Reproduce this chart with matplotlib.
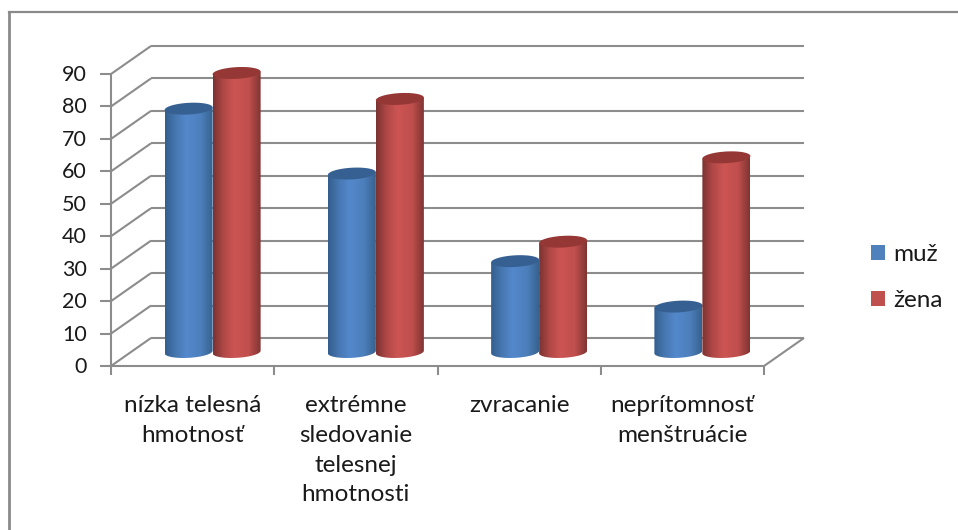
import numpy as np
import matplotlib
matplotlib.use("Agg")
import matplotlib.pyplot as plt
from matplotlib.colors import LinearSegmentedColormap
from matplotlib.lines import Line2D
from matplotlib.patches import Patch, Polygon

categories = ["nízka telesná\nhmotnosť", "extrémne\nsledovanie\ntelesnej\nhmotnosti",
              "zvracanie", "neprítomnosť\nmenštruácie"]
series_names = ["muž", "žena"]
muz = [75, 55, 28, 14]
zena = [86, 78, 34, 60]
y_ticks = list(range(0, 100, 10))

W, H = 958, 530
GRID = "#8c8c8c"
TEXT = "#1a1a1a"

plt.rcParams["font.family"] = ["Lato", "DejaVu Sans"]

# per-series colours: flat legend colour, cylinder shading, top cap
legend_colors = ["#4f81bd", "#c0504d"]
shade_stops = [0, 0.22, 0.45, 0.75, 1]
shades = [["#335e8e", "#4777b0", "#5388cc", "#4c7fbb", "#37628f"],
          ["#7a3231", "#b04846", "#cc5553", "#c04f4d", "#7f3533"]]
cap_colors = ["#376092", "#953735"]

fig = plt.figure(figsize=(W / 100, H / 100), dpi=100)
# the axes sits on the plane through the middle of the chart depth
ax = fig.add_axes([131 / W, (H - 352) / H, 653 / W, 292 / H])
ax.axis("off")

# offset between the middle plane and the back wall
dx, dy = 0.1225, 4.32
bar_w = 0.294
cap_b = 1.8
cap_tilt = 0.4


def line(xs, ys, **kw):
    ax.plot(xs, ys, color=GRID, lw=1.5, clip_on=False, solid_capstyle="butt", zorder=1, **kw)


# back wall gridlines, side wall lines and ticks
for v in y_ticks:
    line([-dx, dx], [v - dy, v + dy])
    line([dx, 4 + dx], [v + dy, v + dy])
    line([-dx - 0.067, -dx], [v - dy, v - dy])
    ax.text(-0.27, v - dy - 0.3, str(v), ha="right", va="center", fontsize=15.5, color=TEXT,
            clip_on=False)

# floor edges and front axis
line([-dx, 4 - dx], [-dy, -dy])
line([4 - dx, 4 + dx], [-dy, dy])
line([-dx, -dx], [-dy, 90 - dy])
for i in range(5):
    line([i - dx, i - dx], [-dy, -dy - 2.8])

for i, label in enumerate(categories):
    ax.text(i + 0.5 - dx, -13.2, label, ha="center", va="top", fontsize=17.5, color=TEXT,
            linespacing=1.52, clip_on=False)


def draw_cylinder(left, value, s):
    t = np.linspace(0, np.pi, 60)
    cx = left + bar_w / 2
    ex = cx + bar_w / 2 * np.cos(t)
    tilt = cap_tilt * np.cos(t)
    # side outline: top edge right to left, then the lower curve of the base
    top = np.column_stack([ex, value + tilt])
    base = np.column_stack([ex[::-1], -cap_b * np.sin(t[::-1]) + tilt[::-1]])
    outline = Polygon(np.vstack([top, base]), closed=True, transform=ax.transData,
                      facecolor="none", edgecolor="none", clip_on=False)
    ax.add_patch(outline)
    cmap = LinearSegmentedColormap.from_list("cyl", list(zip(shade_stops, shades[s])))
    img = ax.imshow(np.linspace(0, 1, 128)[None, :], cmap=cmap, aspect="auto", zorder=3 + s,
                    extent=[left, left + bar_w, -cap_b - 1, value + 1])
    # the base curve hangs below the axes, so only the outline may clip the image
    img.set_clip_box(fig.bbox)
    img.set_clip_path(outline)
    # top cap
    tt = np.linspace(0, 2 * np.pi, 90)
    cap = np.column_stack([cx + bar_w / 2 * np.cos(tt),
                           value + cap_b * np.sin(tt) + cap_tilt * np.cos(tt)])
    ax.add_patch(Polygon(cap, closed=True, facecolor=cap_colors[s], edgecolor="none",
                         zorder=3 + s, clip_on=False))


for i in range(len(categories)):
    center = i + 0.5
    draw_cylinder(center - bar_w, muz[i], 0)
    draw_cylinder(center, zena[i], 1)

# imshow resets the limits
ax.set_xlim(0, 4)
ax.set_ylim(0, 90)

handles = [Patch(facecolor=c, edgecolor="none") for c in legend_colors]
fig.legend(handles, series_names, loc="upper left", bbox_to_anchor=(871 / W, 1 - 244 / H),
           frameon=False, fontsize=17.5, handlelength=0.58, handleheight=0.58,
           handletextpad=0.33, labelspacing=1.03, labelcolor=TEXT, borderpad=0, borderaxespad=0)

# outer frame of the chart area
fig.add_artist(Line2D([8.5 / W, 8.5 / W], [0, 1 - 12 / H], color="#8a8a8a", lw=2))
fig.add_artist(Line2D([8.5 / W, 1], [1 - 12 / H, 1 - 12 / H], color="#8a8a8a", lw=1.6))

fig.savefig("out.png", dpi=100)
